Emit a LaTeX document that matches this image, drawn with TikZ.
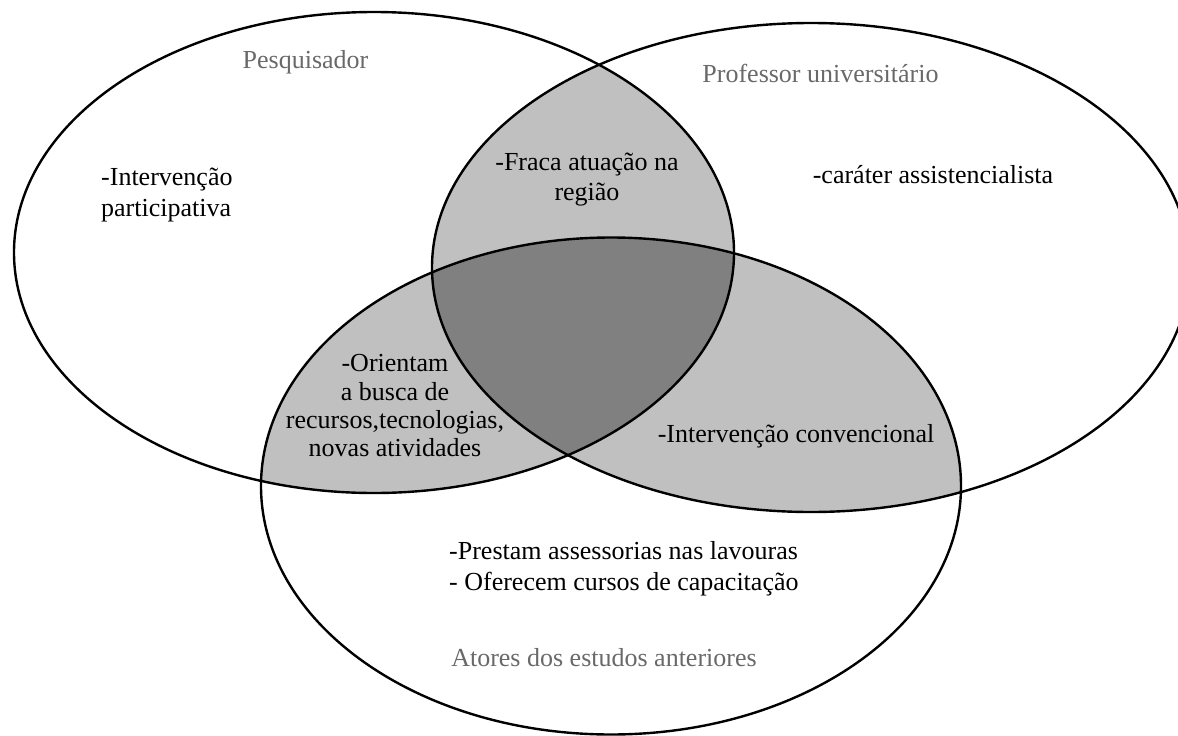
\documentclass[tikz,border=0pt]{standalone}
\usepackage{fontspec}
\setmainfont{Liberation Serif}
\definecolor{lightfill}{RGB}{192,192,192}
\definecolor{darkfill}{RGB}{128,128,128}
\definecolor{labelgray}{RGB}{105,105,105}
\begin{document}
\begin{tikzpicture}[x=1pt,y=-1pt,
  txt/.style={inner sep=0pt,anchor=base,font=\fontsize{26}{30}\selectfont,text=black},
  txtl/.style={txt,anchor=base west},
  lbl/.style={txt,text=labelgray},
  ring/.style={draw=black,line width=2.4pt}]
\useasboundingbox (0,0) rectangle (1178,736);
\def\ellA{(374,252.5) ellipse [x radius=360pt, y radius=240.5pt]}
\def\ellB{(811,267.5) ellipse [x radius=379pt, y radius=244.5pt]}
\def\ellC{(611,486) ellipse [x radius=350pt, y radius=248.5pt]}
% pairwise intersections
\begin{scope}\clip \ellA; \fill[lightfill] \ellB; \fill[lightfill] \ellC; \end{scope}
\begin{scope}\clip \ellB; \fill[lightfill] \ellC; \end{scope}
% triple intersection
\begin{scope}\clip \ellA; \clip \ellB; \fill[darkfill] \ellC; \end{scope}
% outlines
\draw[ring] \ellA;
\draw[ring] \ellB;
\draw[ring] \ellC;
% labels
\node[lbl] (pesq) at (305.5,68) {Pesquisador};
\node[lbl] (prof) at (820.5,82) {Professor universitário};
\node[lbl] (atores) at (604,666.5) {Atores dos estudos anteriores};
% texts
\node[txtl] (ip1) at (101,185) {-Intervenção};
\node[txtl] (ip2) at (101,216.5) {participativa};
\node[txt] (fr1) at (587,170.5) {-Fraca atuação na};
\node[txt] (fr2) at (587,200.5) {região};
\node[txt] (ca) at (933,183) {-caráter assistencialista};
\node[txt] (or1) at (395,371.5) {-Orientam};
\node[txt] (or2) at (395,400) {a busca de};
\node[txt] (or3) at (395,428) {recursos,tecnologias,};
\node[txt] (or4) at (395,456) {novas atividades};
\node[txt] (ic) at (796,442.5) {-Intervenção convencional};
\node[txtl] (pr1) at (449,559.5) {-Prestam assessorias nas lavouras};
\node[txtl] (pr2) at (449,590) {- Oferecem cursos de capacitação};
\end{tikzpicture}
\end{document}
